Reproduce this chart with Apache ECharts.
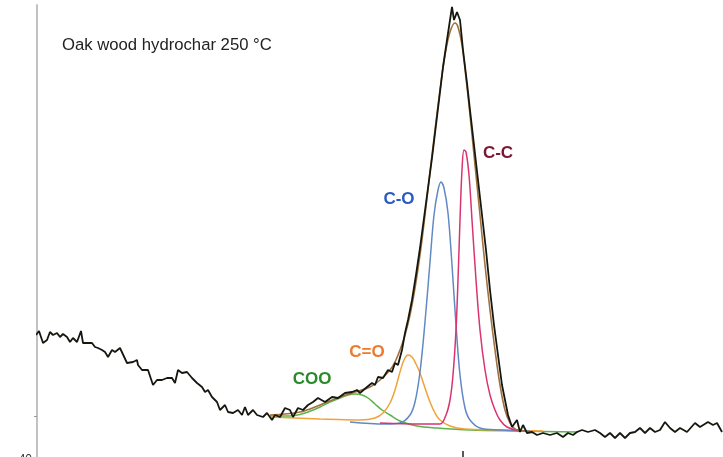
<!DOCTYPE html>
<html>
<head>
<meta charset="utf-8">
<script src="https://cdn.jsdelivr.net/npm/echarts@6/dist/echarts.min.js"></script>
<style>
  html, body { margin: 0; padding: 0; background: #fff; }
</style>
</head>
<body>
<div id="myChart" style="width: 723px; height: 457px;"></div>
<script>
// binding energy (eV) / intensity (a.u.) pairs
const measured = [
  [306.35,71.25],[306.2,72.25],[306.0,69.25],[305.8,70],[305.65,72],[305.5,71.25],[305.3,71.75],
  [305.15,70.75],[305.0,71.5],[304.8,70.75],[304.65,69.5],[304.5,70.5],[304.3,69.5],[304.1,72.25],
  [304.0,69.25],[303.75,69.25],[303.55,69.25],[303.4,68.25],[303.25,68],[303.05,67.5],[302.9,67],
  [302.75,65.75],[302.55,67.5],[302.4,67],[302.15,68],[301.8,64.25],[301.5,64.5],[301.3,65],
  [301.25,63.75],[301.05,62.5],[300.75,62.5],[300.5,58.75],[300.3,60],[300.05,60],[299.8,60.5],
  [299.55,60.5],[299.4,59.25],[299.25,62.5],[299.05,61.75],[298.8,62],[298.55,60.5],[298.3,59.25],
  [298.05,58.25],[297.9,57],[297.75,57.5],[297.55,55.75],[297.3,54.5],[297.15,52.5],[296.9,53.75],
  [296.75,52],[296.5,51.75],[296.25,52.5],[296.05,51.25],[295.9,53.25],[295.75,51.25],[295.5,52.5],
  [295.3,51.25],[295.0,50.75],[294.8,51.75],[294.55,50],[294.4,51.25],[294.15,50.75],[293.9,53],
  [293.65,52.5],[293.5,50.75],[293.25,53],[293.0,52.5],[292.75,53.75],[292.5,54.5],[292.25,55.5],
  [292.15,55],[291.9,54.5],[291.55,55.75],[291.25,55.5],[290.9,56.75],[290.55,57],[290.3,57.5],
  [290.15,56.75],[289.8,58.25],[289.55,59.25],[289.4,58.75],[289.25,60.75],[289.0,60.5],[288.75,62.5],
  [288.55,62],[288.4,64.25],[288.25,63.75],[288.05,67.5],[287.9,71.75],[287.75,75],[287.55,80],
  [287.35,86.25],[287.15,93],[286.95,100.5],[286.75,108],[286.55,115.5],[286.35,123.75],[286.15,132],
  [286.0,138.25],[285.8,145],[285.65,150],[285.55,153.25],[285.45,150],[285.3,152],[285.15,150],
  [285.0,142.5],[284.8,134.25],[284.65,127.5],[284.45,118.75],[284.25,110],[284.05,101.25],[283.85,92.5],
  [283.65,82.5],[283.45,73.75],[283.25,66.25],[283.05,58.75],[282.9,55],[282.75,51.25],[282.55,48.25],
  [282.3,50],[282.15,47],[282.0,48.75],[281.8,46.75],[281.55,47],[281.3,46.25],[281.0,46.75],
  [280.65,46.25],[280.3,46.75],[280.0,45.75],[279.75,46.75],[279.5,46.25],[279.3,47],[279.05,47.5],
  [278.75,47],[278.4,47.5],[278.15,46.75],[277.9,45.75],[277.65,46.75],[277.4,45.5],[277.15,46.75],
  [276.9,45.5],[276.65,46.75],[276.4,47],[276.15,48],[275.9,46.75],[275.65,48],[275.4,47],
  [275.15,47.5],[274.9,49.5],[274.65,48],[274.4,47],[274.15,48],[273.8,47],[273.4,49.25],
  [273.15,48.25],[272.75,49.5],[272.5,48.75],[272.3,49.25],[272.05,47]
];

const envelope = [
  [294.65,51.25],[293.15,52],[292.15,53.75],[291.15,55.75],[290.4,57],[289.65,58.25],[289.15,60],
  [288.65,62.5],[288.4,64.5],[288.15,67.5],[287.9,71.25],[287.65,76.25],[287.4,83],[287.15,91.25],
  [286.9,101.25],[286.65,112],[286.4,122.5],[286.15,132.5],[285.9,141.25],[285.65,147],[285.4,149.25],
  [285.25,148.25],[285.05,143.75],[284.85,135.5],[284.65,126.25],[284.4,113.75],[284.15,101.25],
  [283.9,88.75],[283.65,77.5],[283.4,67.5],[283.15,58.75],[282.9,52.5],[282.65,49.25],[282.4,47.75],
  [281.9,47.25]
];

const peakCOO = [
  [294.65,51],[293.65,51],[292.9,51.75],[292.15,53.25],[291.65,54.5],[291.15,55.5],[290.75,56.25],
  [290.4,56.5],[290.05,56.25],[289.75,55.5],[289.4,54],[289.05,52.5],[288.65,51.25],[288.15,49.75],
  [287.3,48.5],[286.3,48],[284.65,47.5],[282.15,47.25],[279.25,47]
];

const peakCdO = [
  [294.65,50.75],[292.15,50.25],[290.15,50],[289.4,50.5],[289.0,51.75],[288.65,54.25],[288.4,57.5],
  [288.15,62],[287.95,65],[287.75,66.25],[287.55,65.75],[287.35,64],[287.15,61.75],[286.9,58],
  [286.65,54.5],[286.4,51.75],[286.15,50],[285.65,48.5],[284.9,47.75],[283.15,47.5],[281.0,47.25]
];

const peakCO = [
  [290.65,49.5],[288.9,49],[288.15,49.25],[287.65,51.25],[287.4,54.5],[287.15,62],[286.9,74.5],
  [286.65,89.5],[286.45,101.25],[286.25,107.5],[286.1,109.5],[285.95,108],[285.75,101.75],
  [285.55,88.75],[285.35,73.75],[285.15,61.25],[284.9,53],[284.65,50],[284.15,48],[283.15,47.5],
  [281.65,47.25]
];

const peakCC = [
  [289.15,49.25],[287.15,49],[286.15,49],[285.85,51.25],[285.65,55],[285.5,61.25],[285.35,72.5],
  [285.25,85],[285.15,100],[285.05,112.5],[284.95,117.5],[284.85,117],[284.7,111.25],[284.55,100],
  [284.35,85],[284.15,72.5],[283.9,62.5],[283.65,56.25],[283.4,52.5],[283.15,50],[282.8,48.25],
  [282.15,47.25]
];

const xTicks = [285];
const yTicks = [40, 51];
const yLabels = [40];

let myChart = echarts.init(document.getElementById('myChart'));

function fitLine(data, color, width, z) {
  return {
    type: 'line',
    data: data,
    smooth: 0.35,
    symbol: 'none',
    z: z,
    lineStyle: { color: color, width: width }
  };
}

function tag(text, x, y, color) {
  return {
    type: 'text',
    x: x,
    y: y,
    style: {
      text: text,
      fill: color,
      font: 'bold 17px "Liberation Sans", Arial, sans-serif',
      align: 'center',
      verticalAlign: 'middle'
    }
  };
}

myChart.setOption({
  animation: false,
  // plot area runs past the bottom edge, as in the cropped original
  grid: { left: 37, right: 0, top: 5, height: 455, outerBoundsMode: 'none' },
  xAxis: {
    type: 'value',
    inverse: true,
    min: 272,
    max: 306.3,
    axisLine: { show: false },
    axisTick: { show: true, inside: true, length: 9, customValues: xTicks, lineStyle: { color: '#222', width: 1.5 } },
    axisLabel: { show: false },
    splitLine: { show: false }
  },
  yAxis: {
    type: 'value',
    min: 40,
    max: 153.75,
    axisLine: { show: true, lineStyle: { color: '#c2c2c2', width: 2 } },
    axisTick: { show: true, length: 3, customValues: yTicks, lineStyle: { color: '#999' } },
    axisLabel: { show: true, customValues: yLabels, color: '#333', fontSize: 12, margin: 5,
      fontFamily: '"Liberation Sans", Arial, sans-serif' },
    splitLine: { show: false }
  },
  graphic: [
    {
      type: 'text',
      x: 62,
      y: 45,
      style: {
        text: 'Oak wood hydrochar 250 °C',
        fill: '#222',
        font: '16.7px "Liberation Sans", Arial, sans-serif',
        verticalAlign: 'middle'
      }
    },
    tag('COO', 312, 379, '#2b8a2b'),
    tag('C=O', 367, 352, '#ee7a2e'),
    tag('C-O', 399, 199, '#2a5cc0'),
    tag('C-C', 498, 153, '#7d1535')
  ],
  series: [
    fitLine(peakCOO, '#5cb34a', 1.5, 2),
    fitLine(peakCdO, '#f0a23c', 1.5, 3),
    fitLine(peakCO, '#6189c4', 1.5, 4),
    fitLine(peakCC, '#d93470', 1.5, 5),
    fitLine(envelope, '#a0703e', 1.6, 6),
    {
      type: 'line',
      data: measured,
      symbol: 'none',
      z: 7,
      lineStyle: { color: '#16180f', width: 1.8 }
    }
  ]
});
</script>
</body>
</html>
